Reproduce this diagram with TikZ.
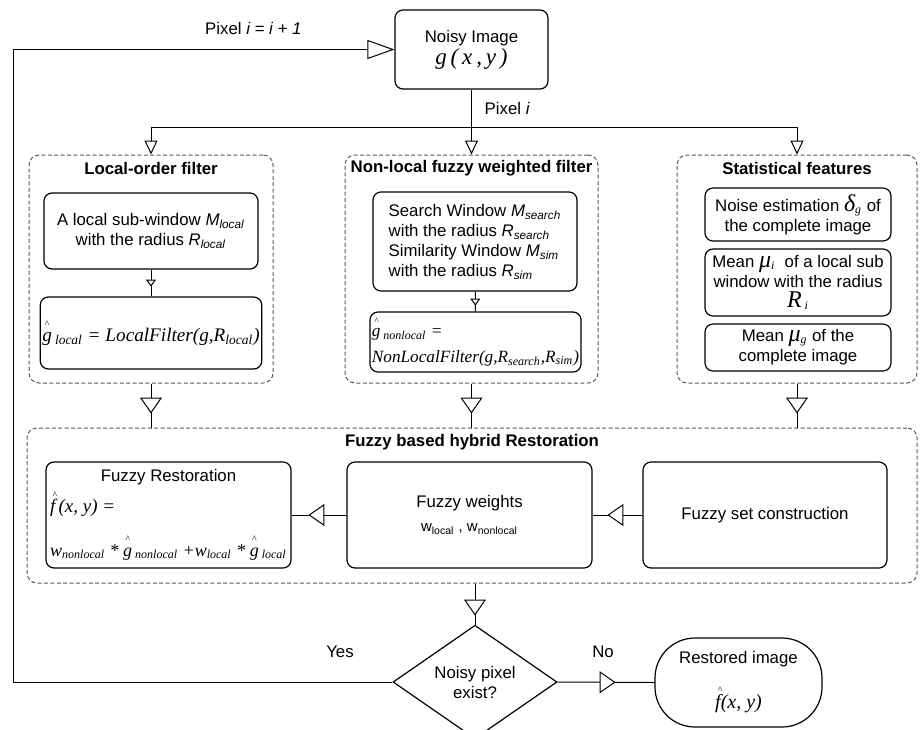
\documentclass[tikz,border=0pt]{standalone}
\usepackage{fontspec}
\setmainfont{Liberation Sans}
\newfontfamily\tnr{Liberation Serif}
\usetikzlibrary{arrows.meta,shapes.geometric,decorations.markings}
\newcommand{\tmi}[1]{{\tnr\itshape #1}}
\newcommand{\hatx}[2][0.75em]{\leavevmode\rlap{\raisebox{#1}{\kern0.12em\fontsize{5}{5}\selectfont\textasciicircum}}#2}
\tikzset{
	box/.style={draw,line width=0.6pt,rounded corners=4pt,align=center,inner sep=1pt},
	group/.style={draw,black!65,dash pattern=on 2pt off 1.2pt,rounded corners=5pt},
	title/.style={font=\bfseries\fontsize{8.4}{10}\selectfont},
	bigtri/.tip={Triangle[fill=white,length=13.5pt,width=9.5pt]},
	toptri/.tip={Triangle[fill=white,length=7pt,width=6.5pt]},
	midtri/.tip={Triangle[fill=white,length=8pt,width=11pt]},
	tinytri/.tip={Triangle[fill=white,length=3.5pt,width=5pt]},
	midtip/.style 2 args={postaction={decorate},decoration={markings,mark=at position #1 with {\arrow{#2}}}}
}
\begin{document}
\begin{tikzpicture}[x=0.5pt,y=-0.5pt,line width=0.5pt,font=\fontsize{8.4}{10}\selectfont]
	\useasboundingbox (0,0) rectangle (920,729);
	% Ảnh vào
	\node[box,minimum width=76.5pt,minimum height=39.5pt] (noisy) at (471.5,49.5)
		{Noisy Image\\[1pt]\tmi{\fontsize{11.5}{12}\selectfont g\,(\,x\,,\,y\,)}};
	% Ba khối lọc
	\node[group,minimum width=122pt,minimum height=114pt] (lgroup) at (151,269) {};
	\node[group,minimum width=126.5pt,minimum height=114pt] (mgroup) at (471.5,269) {};
	\node[group,minimum width=120pt,minimum height=114pt] (rgroup) at (797,269) {};
	\node[title] (ltitle) at (151,168) {Local-order filter};
	\node[title] (mtitle) at (471.5,168) {Non-local fuzzy weighted filter};
	\node[title] (rtitle) at (797,168) {Statistical features};
	\node[box,minimum width=107pt,minimum height=38pt] (l1) at (151,231)
		{A local sub-window \textit{M}\textsubscript{\textit{local}}\\with the radius \textit{R}\textsubscript{\textit{local}}};
	\node[box,minimum width=107pt,minimum height=36pt] (l2) at (151,333)
		{\fontsize{9.6}{11}\selectfont\tmi{\hatx{g}\,\textsubscript{local} = LocalFilter(g,R\textsubscript{local})}};
	\node[box,minimum width=102pt,minimum height=49.5pt,align=left] (m1) at (475,241.5)
		{Search Window \textit{M}\textsubscript{\textit{search}}\\with the radius \textit{R}\textsubscript{\textit{search}}\\
		Similarity Window \textit{M}\textsubscript{\textit{sim}}\\with the radius \textit{R}\textsubscript{\textit{sim}}};
	\node[box,minimum width=102.5pt,minimum height=30pt,align=left] (m2) at (475.5,342)
		{\fontsize{8.6}{10}\selectfont\tmi{\hatx{g}\,\textsubscript{nonlocal} =}\\[3pt]
		\fontsize{8.6}{10}\selectfont\tmi{NonLocalFilter(g,R\textsubscript{search},R\textsubscript{sim})}};
	\node[box,minimum width=93pt,minimum height=26.5pt] (r1) at (798,214.5)
		{Noise estimation \tmi{\fontsize{12}{10}\selectfont δ}\textsubscript{\tmi{g}} of\\the complete image};
	\node[box,minimum width=93pt,minimum height=33.5pt] (r2) at (798,282.5)
		{Mean \tmi{\fontsize{12}{10}\selectfont μ}\textsubscript{\tmi{i}}~ of a local sub\\window with the radius\\
		\tmi{\fontsize{12}{10}\selectfont R}\,\textsubscript{\tmi{i}}};
	\node[box,minimum width=93pt,minimum height=23.5pt] (r3) at (798,347.5)
		{Mean \tmi{\fontsize{12}{10}\selectfont μ}\textsubscript{\tmi{g}} of the\\complete image};
	% Khối mờ
	\node[group,minimum width=445pt,minimum height=77.5pt] (fuzzy) at (472,505.5) {};
	\node[title] (ftitle) at (472,442) {Fuzzy based hybrid Restoration};
	\node[box,minimum width=122.5pt,minimum height=53pt] (fr) at (168.5,515)
		{\begin{tabular}{@{}l@{}}\multicolumn{1}{@{}c@{}}{Fuzzy Restoration}\\[2pt]
		\fontsize{9.5}{11}\selectfont\tmi{\hatx{f}\,(x, y) =}\\[9pt]
		\fontsize{9}{11}\selectfont\tmi{w\textsubscript{nonlocal} * \hatx{g}\,\textsubscript{nonlocal} +w\textsubscript{local} * \hatx{g}\,\textsubscript{local}}
		\end{tabular}};
	\node[box,minimum width=122.5pt,minimum height=53pt] (fw) at (469.5,515)
		{Fuzzy weights\\[2pt]{\fontsize{7.5}{9}\selectfont w\textsubscript{local} , w\textsubscript{nonlocal}}};
	\node[box,minimum width=122pt,minimum height=53pt] (fs) at (765,515) {Fuzzy set construction};
	% Quyết định
	\node[draw,diamond,line width=0.6pt,minimum width=82pt,minimum height=50pt,inner sep=0pt,align=center] (dec) at (475,682)
		{Noisy pixel\\exist?};
	\node[box,rounded corners=20pt,minimum width=83.5pt,minimum height=44.5pt] (restored) at (738.5,682.5)
		{Restored image\\[9pt]\tmi{\fontsize{10}{11}\selectfont\hatx{f}(x, y)}};
	\node (yes) at (340,652) {Yes};
	\node (no) at (603,652) {No};
	% Các mũi tên
	\coordinate (branch) at (471.5,127);
	\coordinate (loop) at (13,49.5);
	\draw (noisy.south) -- (branch) node[pos=0.5,right=3pt] (pixi) {Pixel \textit{i}};
	\draw (lgroup.north |- branch) -- (rgroup.north |- branch);
	\foreach \g in {lgroup,mgroup,rgroup}
	\draw[-{toptri}] (\g.north |- branch) -- (\g.north);
	\draw[midtip={8.5pt}{tinytri}] (l1) -- (l2);
	\draw[midtip={7pt}{tinytri}] (m1) -- (m2);
	\foreach \g in {lgroup,mgroup,rgroup}
	\draw[midtip={15pt}{midtri}] (\g.south) -- (\g.south |- fuzzy.north);
	\draw[midtip={17.5pt}{midtri}] (fs) -- (fw);
	\draw[midtip={19pt}{midtri}] (fw) -- (fr);
	\draw[midtip={16pt}{midtri}] (fuzzy.south -| dec) -- (dec.north);
	\draw[midtip={29pt}{midtri}] (dec.east) -- (restored.west);
	\draw[-{bigtri}] (dec.west) -| (loop) -- (noisy.west) node[pos=0.63,above=4pt] (pixloop) {Pixel \textit{i = i + 1}};
\end{tikzpicture}
\end{document}
